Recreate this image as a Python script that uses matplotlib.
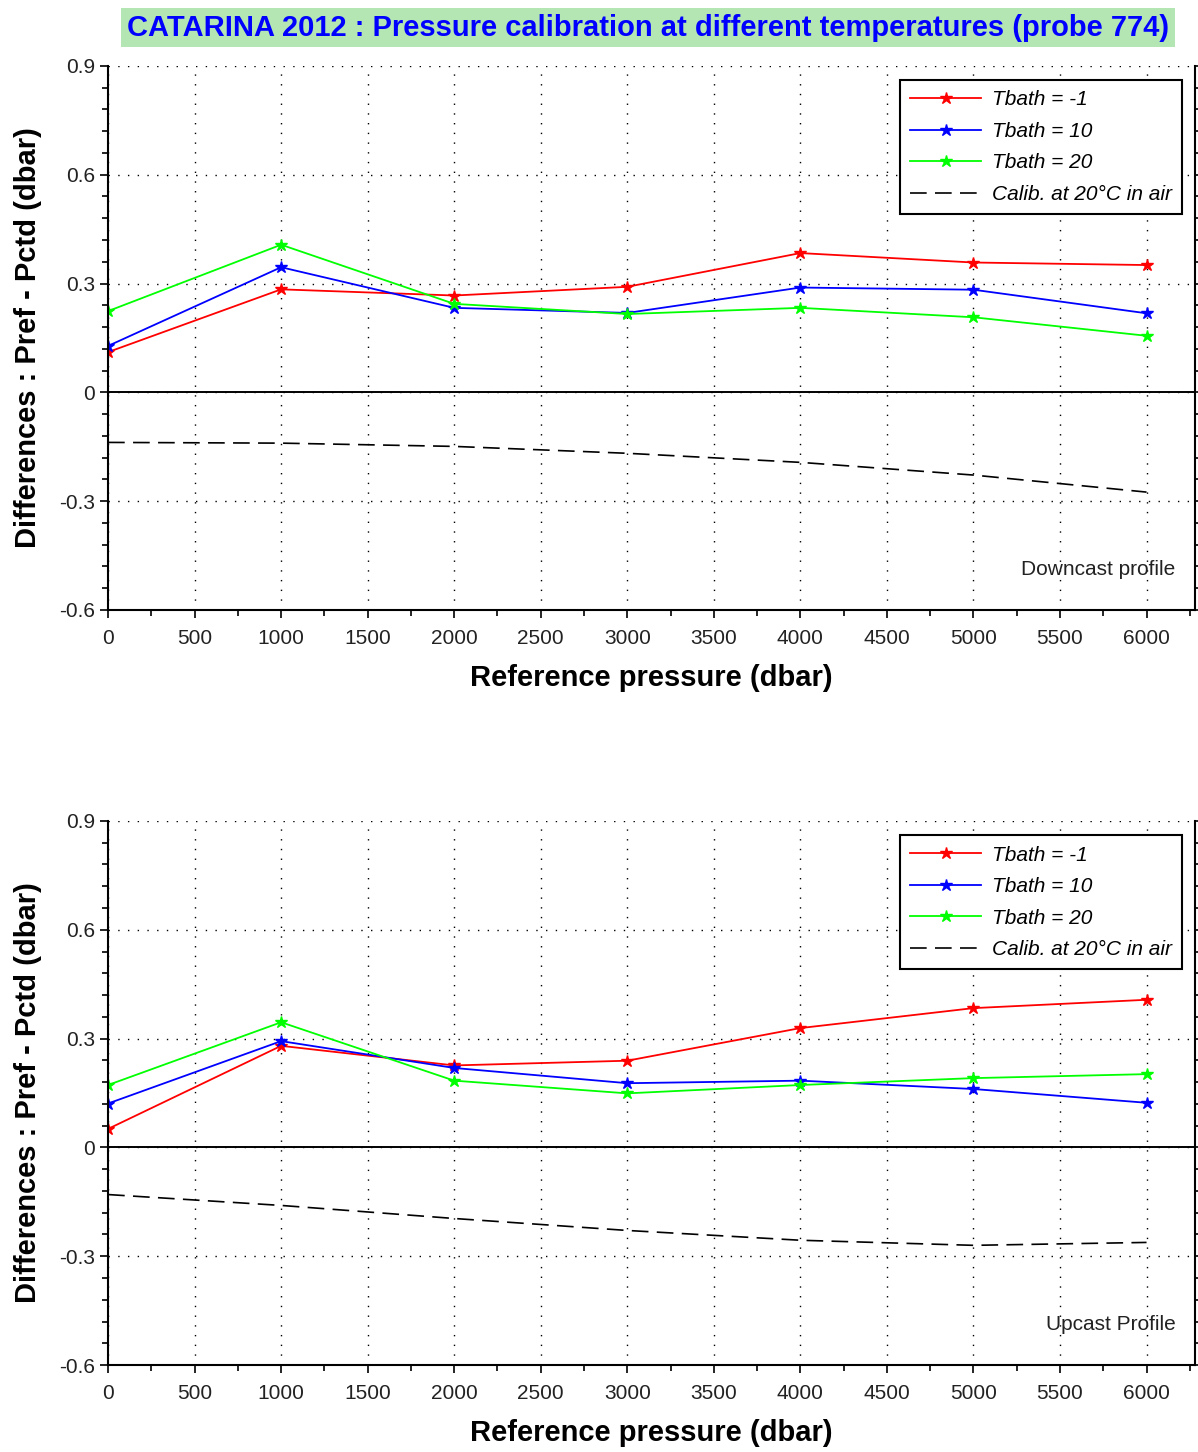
import numpy as np
import matplotlib
matplotlib.use("Agg")
import matplotlib.pyplot as plt
from matplotlib.ticker import MultipleLocator

plt.rcParams['font.family'] = ['Liberation Sans', 'DejaVu Sans']

pressure = [0, 1000, 2000, 3000, 4000, 5000, 6000]

# downcast profile
down_m1 = [0.111, 0.284, 0.267, 0.291, 0.384, 0.358, 0.351]
down_10 = [0.128, 0.345, 0.233, 0.219, 0.289, 0.283, 0.218]
down_20 = [0.224, 0.407, 0.244, 0.216, 0.233, 0.207, 0.156]
down_air = [-0.138, -0.140, -0.149, -0.168, -0.193, -0.228, -0.275]

# upcast profile
up_m1 = [0.051, 0.280, 0.226, 0.239, 0.329, 0.384, 0.407]
up_10 = [0.121, 0.293, 0.219, 0.177, 0.184, 0.161, 0.123]
up_20 = [0.172, 0.345, 0.184, 0.149, 0.172, 0.191, 0.202]
up_air = [-0.130, -0.160, -0.196, -0.229, -0.256, -0.270, -0.262]

labels = ['Tbath = -1', 'Tbath = 10', 'Tbath = 20', 'Calib. at 20°C in air']
colors = ['#ff0000', '#0000ff', '#00ff00']

title = 'CATARINA 2012 : Pressure calibration at different temperatures (probe 774)'


def draw_panel(ax, series, air, note):
    for vals, c, lab in zip(series, colors, labels[:3]):
        ax.plot(pressure, vals, color=c, lw=1.3, marker='*', ms=9, label=lab)
    ax.plot(pressure, air, color='black', lw=1.2, ls=(0, (10, 5)), label=labels[3])
    ax.axhline(0, color='black', lw=1.4, zorder=1)
    ax.set_xlim(0, 6280)
    ax.set_ylim(-0.6, 0.9)
    ax.xaxis.set_major_locator(MultipleLocator(500))
    ax.xaxis.set_minor_locator(MultipleLocator(250))
    ax.yaxis.set_minor_locator(MultipleLocator(0.06))
    ax.set_yticks([-0.6, -0.3, 0, 0.3, 0.6, 0.9])
    ax.set_yticklabels(['-0.6', '-0.3', '0', '0.3', '0.6', '0.9'])
    ax.grid(True, which='major', color='black', ls=(0, (1, 6)), lw=1.0)
    ax.spines['top'].set_visible(False)
    for s in ['left', 'bottom', 'right']:
        ax.spines[s].set_linewidth(1.5)
    ax.tick_params(axis='both', which='both', direction='out', right=True,
                   labelsize=15, labelcolor='#222222', width=1.2)
    ax.tick_params(which='major', length=6)
    ax.tick_params(which='minor', length=4)
    ax.tick_params(axis='x', which='major', pad=8)
    ax.set_xlabel('Reference pressure (dbar)', fontsize=21, fontweight='bold', labelpad=11)
    ax.set_ylabel('Differences : Pref - Pctd (dbar)', fontsize=21, fontweight='bold', labelpad=12)
    leg = ax.legend(loc='upper right', bbox_to_anchor=(0.988, 0.974),
                    prop={'style': 'italic', 'size': 15}, frameon=True, fancybox=False,
                    handlelength=3.4, handletextpad=0.5, borderpad=0.5,
                    labelspacing=0.6, framealpha=1, borderaxespad=0)
    leg.get_frame().set_edgecolor('black')
    leg.get_frame().set_linewidth(1.5)
    ax.text(0.982, 0.074, note, transform=ax.transAxes, ha='right', va='center',
            fontsize=15, color='#222222')


fig = plt.figure(figsize=(11.98, 14.52), dpi=100)
ax1 = fig.add_axes([0.0902, 0.5799, 0.9073, 0.3747])
ax2 = fig.add_axes([0.0902, 0.0599, 0.9073, 0.3747])

draw_panel(ax1, [down_m1, down_10, down_20], down_air, 'Downcast profile')
draw_panel(ax2, [up_m1, up_10, up_20], up_air, 'Upcast Profile')

fig.text(0.541, 0.981, title, ha='center', va='center', fontsize=21,
         fontweight='bold', color='#0000ff',
         bbox=dict(boxstyle='square,pad=0.2', facecolor='#b3e6b3', edgecolor='none'))

fig.savefig('out.png', dpi=100)
